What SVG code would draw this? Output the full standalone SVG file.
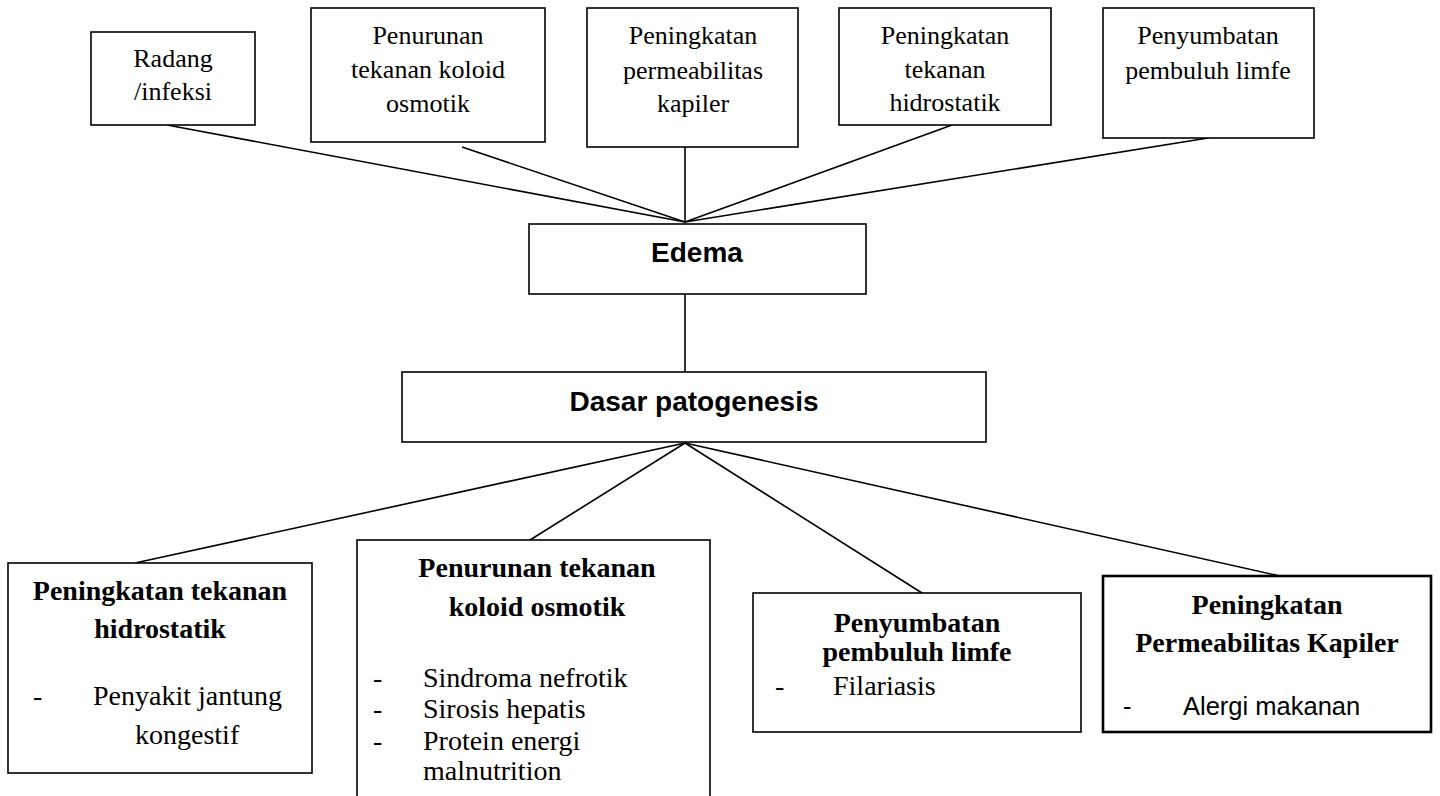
<svg xmlns="http://www.w3.org/2000/svg" width="1440" height="796" viewBox="0 0 1440 796">
<style>
.box{fill:#fff;stroke:#000;stroke-width:1.6}
.thick{stroke-width:2.6}
.con line{stroke:#000;stroke-width:1.6}
.t{font-family:"Liberation Serif","Times New Roman",serif;font-size:26px;fill:#000;text-anchor:middle}
.b{font-family:"Liberation Serif","Times New Roman",serif;font-size:28px;font-weight:bold;fill:#000;text-anchor:middle}
.r{font-family:"Liberation Serif","Times New Roman",serif;font-size:28px;fill:#000}
.a{font-family:"Liberation Sans",Arial,sans-serif;font-size:28px;font-weight:bold;fill:#000;text-anchor:middle}
.s{font-family:"Liberation Sans",Arial,sans-serif;font-size:25.5px;fill:#000}
</style>
<rect width="1440" height="796" fill="#fff"/>
<g id="connectors" class="con">
<line x1="167" y1="125" x2="685" y2="222"/>
<line x1="462" y1="147" x2="685" y2="222"/>
<line x1="685" y1="147" x2="685" y2="222"/>
<line x1="952" y1="125" x2="685" y2="222"/>
<line x1="1208" y1="138" x2="685" y2="222"/>
<line x1="685" y1="294" x2="685" y2="372"/>
<line x1="685" y1="443" x2="135" y2="563"/>
<line x1="685" y1="443" x2="530" y2="540"/>
<line x1="685" y1="443" x2="922" y2="593"/>
<line x1="685" y1="443" x2="1280" y2="576"/>
</g>
<g id="radang">
<rect class="box" x="91" y="32" width="164" height="93"/>
<text class="t" x="173" y="67">Radang</text>
<text class="t" x="173" y="100">/infeksi</text>
</g>
<g id="penurunan-top">
<rect class="box" x="311" y="8" width="234" height="134"/>
<text class="t" x="428" y="44">Penurunan</text>
<text class="t" x="428" y="78">tekanan koloid</text>
<text class="t" x="428" y="112">osmotik</text>
</g>
<g id="permeabilitas-top">
<rect class="box" x="587" y="8" width="211" height="139"/>
<text class="t" x="693" y="44">Peningkatan</text>
<text class="t" x="693" y="79">permeabilitas</text>
<text class="t" x="693" y="112">kapiler</text>
</g>
<g id="hidrostatik-top">
<rect class="box" x="839" y="8" width="212" height="117"/>
<text class="t" x="945" y="44">Peningkatan</text>
<text class="t" x="945" y="78">tekanan</text>
<text class="t" x="945" y="111">hidrostatik</text>
</g>
<g id="limfe-top">
<rect class="box" x="1103" y="8" width="211" height="130"/>
<text class="t" x="1208" y="44">Penyumbatan</text>
<text class="t" x="1208" y="79">pembuluh limfe</text>
</g>
<g id="edema">
<rect class="box" x="529" y="224" width="337" height="70"/>
<text class="a" x="697" y="262">Edema</text>
</g>
<g id="dasar">
<rect class="box" x="402" y="372" width="584" height="70"/>
<text class="a" x="694" y="411">Dasar patogenesis</text>
</g>
<g id="hidrostatik-bottom">
<rect class="box" x="8" y="563" width="304" height="210"/>
<text class="b" x="160" y="600">Peningkatan tekanan</text>
<text class="b" x="160" y="638">hidrostatik</text>
<text class="r" x="33" y="705">-</text>
<text class="r" x="93" y="705">Penyakit jantung</text>
<text class="r" x="135" y="744">kongestif</text>
</g>
<g id="koloid-bottom">
<rect class="box" x="357" y="540" width="353" height="270"/>
<text class="b" x="537" y="577">Penurunan tekanan</text>
<text class="b" x="537" y="616">koloid osmotik</text>
<text class="r" x="373" y="687">-</text>
<text class="r" x="423" y="687">Sindroma nefrotik</text>
<text class="r" x="373" y="718">-</text>
<text class="r" x="423" y="718">Sirosis hepatis</text>
<text class="r" x="373" y="750">-</text>
<text class="r" x="423" y="750">Protein energi</text>
<text class="r" x="423" y="780">malnutrition</text>
</g>
<g id="limfe-bottom">
<rect class="box" x="753" y="593" width="328" height="139"/>
<text class="b" x="917" y="632">Penyumbatan</text>
<text class="b" x="917" y="661">pembuluh limfe</text>
<text class="r" x="775" y="695">-</text>
<text class="r" x="833" y="695">Filariasis</text>
</g>
<g id="permeabilitas-bottom">
<rect class="box thick" x="1103" y="576" width="328" height="156"/>
<text class="b" x="1267" y="614">Peningkatan</text>
<text class="b" x="1267" y="652">Permeabilitas Kapiler</text>
<text class="s" x="1123" y="715">-</text>
<text class="s" x="1183" y="715">Alergi makanan</text>
</g>
</svg>
